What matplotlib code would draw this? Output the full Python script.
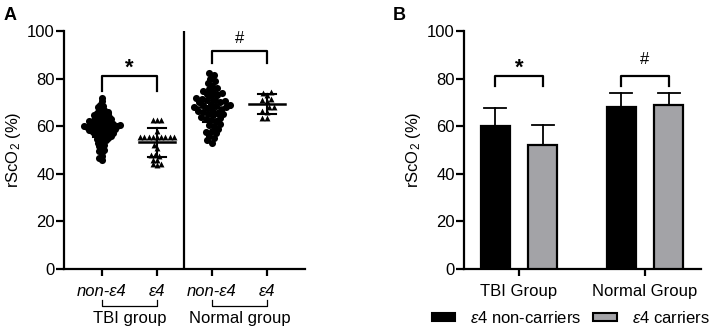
import numpy as np
import matplotlib
matplotlib.use("Agg")
import matplotlib.pyplot as plt
from matplotlib.patches import Patch

plt.rcParams['font.family'] = ['Liberation Sans', 'DejaVu Sans']
plt.rcParams['mathtext.fontset'] = 'custom'
plt.rcParams['mathtext.rm'] = 'Liberation Sans'
plt.rcParams['mathtext.it'] = 'Liberation Sans:italic'
plt.rcParams['mathtext.bf'] = 'Liberation Sans:bold'

# ---------------- data ----------------
tbi_non_e4 = [72, 70.5, 69, 68.5, 68, 67.5, 67, 66.5, 66, 66, 65.5, 65, 65, 64.5, 64.5, 64, 64, 63.5,
              63.5, 63, 63, 62.5, 62.5, 62.5, 62, 62, 62, 61.5, 61.5, 61.5, 61, 61, 61, 61, 60.5, 60.5,
              60.5, 60, 60, 60, 60, 60, 60, 59.5, 59.5, 59.5, 59, 59, 59, 59, 58.5, 58.5, 58.5, 58, 58,
              58, 57.5, 57.5, 57, 57, 57, 56.5, 56.5, 56, 56, 55.5, 55.5, 55, 55, 54.5, 54, 54, 53.5,
              53, 52.5, 52, 51.5, 51, 50, 49.5, 49, 47.5, 46.5, 46]
tbi_e4 = [62.5, 62.5, 62.5, 58, 55.5, 55.5, 55.5, 55.5, 55.5, 55.5, 55.5, 55.5, 55.5,
          52, 51, 48, 48, 47.5, 46, 46, 44, 44, 43.5]
normal_non_e4 = [82.5, 81.5, 80, 79, 78, 77, 76, 75.5, 75, 74.5, 74, 73.5, 73, 72.5, 72, 71.5, 71,
                 71, 70.5, 70, 70, 69.5, 69, 69, 68.5, 68, 68, 67.5, 67, 67, 66.5, 66, 65.5, 65, 65,
                 64.5, 64, 63.5, 63, 62.5, 62, 61, 60.5, 60, 59, 58, 57.5, 57, 56, 55, 54, 53]
normal_e4 = [74.5, 74, 73, 71.5, 71, 70.5, 68, 68, 66.5, 66, 63.5, 63.5]

# mean / SD
a_means = [60.2, 53.2, 67.9, 69.3]
a_sd = [4.8, 6.1, 6.0, 4.2]

a_ticklabels = ["non-ε4", "ε4", "non-ε4", "ε4"]
a_groups = ["TBI group", "Normal group"]

# panel B
b_groups = ["TBI Group", "Normal Group"]
b_noncarriers = [60.2, 68.2]
b_noncarriers_sd = [7.3, 5.6]
b_carriers = [52.2, 68.7]
b_carriers_sd = [8.1, 5.4]
b_legend = [r"$\mathit{ε4}$ non-carriers", r"$\mathit{ε4}$ carriers"]

# ---------------- figure ----------------
W, H = 716, 328
FS = 12
fig = plt.figure(figsize=(W / 100, H / 100), dpi=100)

axA = fig.add_axes([64 / W, 1 - 269 / H, 241 / W, 238 / H])
axB = fig.add_axes([464 / W, 1 - 269 / H, 237 / W, 238 / H])

LW = 1.6
for ax in (axA, axB):
    for s in ("top", "right"):
        ax.spines[s].set_visible(False)
    for s in ("left", "bottom"):
        ax.spines[s].set_linewidth(LW)
    ax.set_ylim(0, 100)
    ax.set_yticks([0, 20, 40, 60, 80, 100])
    ax.tick_params(axis="both", direction="out", length=5.5, width=LW, labelsize=FS, pad=1.2)
    ax.set_ylabel(r"rScO$_2$ (%)", fontsize=FS, labelpad=3)

# ---- panel A ----
xlimA = (0.31, 4.69)
axA.set_xlim(*xlimA)
px_x = 241 / (xlimA[1] - xlimA[0])
px_y = 238 / 100.0


def swarm(vals, d):
    order = np.argsort(vals)
    ys = np.asarray(vals, float) * px_y
    placed = []
    offs = np.zeros(len(vals))
    for i in order:
        y = ys[i]
        cands = [0.0]
        for (px, py) in placed:
            dy = y - py
            if abs(dy) < d:
                dx = np.sqrt(d * d - dy * dy)
                cands += [px + dx, px - dx]
        cands = sorted(cands, key=lambda c: (abs(c), c))
        for c in cands:
            ok = True
            for (px, py) in placed:
                if (c - px) ** 2 + (y - py) ** 2 < d * d - 1e-6:
                    ok = False
                    break
            if ok:
                offs[i] = c
                placed.append((c, y))
                break
    return offs / px_x


series = [(tbi_non_e4, "o", 1, 3.2), (tbi_e4, "^", 2, 4.2), (normal_non_e4, "o", 3, 5.2),
          (normal_e4, "^", 4, 5.0)]
for vals, mk, xc, d in series:
    offs = swarm(vals, d)
    axA.scatter(xc + offs, vals, marker=mk, s=26 if mk == "o" else 18, color="black",
                linewidths=0, zorder=3)

for i, xc in enumerate([1, 2, 3, 4]):
    m, s = a_means[i], a_sd[i]
    axA.plot([xc - 0.33, xc + 0.33], [m, m], color="black", lw=1.8, zorder=4)
    axA.plot([xc, xc], [m - s, m + s], color="black", lw=1.5, zorder=4)
    for yy in (m - s, m + s):
        axA.plot([xc - 0.17, xc + 0.17], [yy, yy], color="black", lw=1.5, zorder=4)

axA.axvline(2.5, color="black", lw=LW)
axA.set_xticks([1, 2, 3, 4])
axA.set_xticklabels(a_ticklabels, style="italic", fontsize=FS)
axA.tick_params(axis="x", length=5, pad=5.5)

# group brackets under tick labels
tr = axA.get_xaxis_transform()
for g, (x1, x2) in zip(a_groups, [(1, 2), (3, 4)]):
    axA.plot([x1, x1, x2, x2], [-0.13, -0.154, -0.154, -0.13], color="black", lw=0.9,
             transform=tr, clip_on=False)
    axA.text((x1 + x2) / 2, -0.21, g, transform=tr, ha="center", va="center", fontsize=FS)

# significance brackets A
axA.plot([1, 1, 2, 2], [75, 81, 81, 75], color="black", lw=1.6)
axA.text(1.5, 84.5, "*", ha="center", va="center", fontsize=16, fontweight="bold")
axA.plot([3, 3, 4, 4], [86.5, 91.5, 91.5, 86.5], color="black", lw=1.6)
axA.text(3.5, 97, "#", ha="center", va="center", fontsize=FS)

# ---- panel B ----
xlimB = (-0.4365, 1.444)
axB.set_xlim(*xlimB)
xb = np.arange(len(b_groups))
bw = 0.23
off = 0.19
axB.bar(xb - off, b_noncarriers, width=bw, color="black", edgecolor="black", lw=1.6, zorder=3)
axB.bar(xb + off, b_carriers, width=bw, color="#a3a3a7", edgecolor="black", lw=1.6, zorder=3)
for xs, vals, sds in [(xb - off, b_noncarriers, b_noncarriers_sd), (xb + off, b_carriers, b_carriers_sd)]:
    for x, v, s in zip(xs, vals, sds):
        axB.plot([x, x], [v, v + s], color="black", lw=1.3, zorder=2)
        axB.plot([x - 0.085, x + 0.085], [v + s, v + s], color="black", lw=1.3, zorder=2)

axB.set_xticks(xb)
axB.set_xticklabels(b_groups, fontsize=FS)
axB.tick_params(axis="x", length=5, pad=6)

axB.plot([-off, -off, off, off], [77, 81, 81, 77], color="black", lw=1.6)
axB.text(0, 84.5, "*", ha="center", va="center", fontsize=16, fontweight="bold")
axB.plot([1 - off, 1 - off, 1 + off, 1 + off], [77, 81, 81, 77], color="black", lw=1.6)
axB.text(1, 88, "#", ha="center", va="center", fontsize=FS)

handles = [Patch(facecolor="black", edgecolor="black", lw=1.5),
           Patch(facecolor="#a3a3a7", edgecolor="black", lw=1.5)]
fig.legend(handles, b_legend, loc="center left", bbox_to_anchor=(432 / W, 1 - 318 / H),
           ncol=2, frameon=False, fontsize=FS, handlelength=1.4, handleheight=0.4,
           columnspacing=0.7, handletextpad=0.9, borderaxespad=0, borderpad=0)

fig.text(4 / W, 1 - 15 / H, "A", fontsize=13, fontweight="bold", va="center")
fig.text(393 / W, 1 - 15 / H, "B", fontsize=13, fontweight="bold", va="center")

fig.savefig("out.png", dpi=100)
